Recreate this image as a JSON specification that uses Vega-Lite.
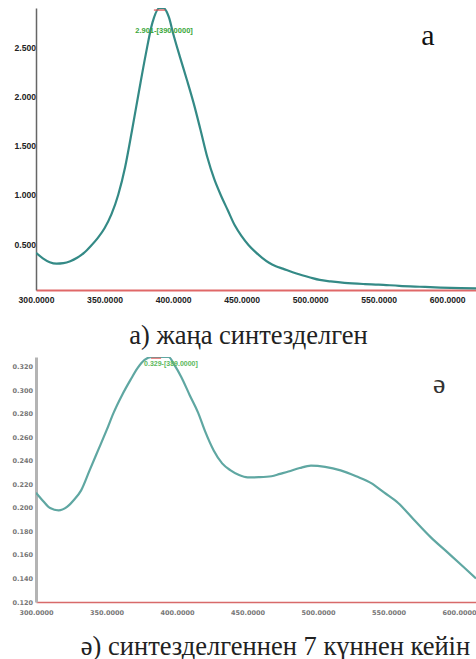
{
  "$schema": "https://vega.github.io/schema/vega-lite/v6.json",
  "padding": {"left": 12, "top": 8, "right": 0, "bottom": 0},
  "background": "white",
  "config": {"view": {"stroke": null}, "axis": {"grid": false, "ticks": false, "labelOverlap": false, "labelSeparation": 0}},
  "datasets": {
    "fresh": [
      {"wavelength": 300, "absorbance": 0.41}, {"wavelength": 305, "absorbance": 0.355}, {"wavelength": 310, "absorbance": 0.315},
      {"wavelength": 315, "absorbance": 0.3}, {"wavelength": 320, "absorbance": 0.305}, {"wavelength": 325, "absorbance": 0.325},
      {"wavelength": 330, "absorbance": 0.36}, {"wavelength": 335, "absorbance": 0.41}, {"wavelength": 340, "absorbance": 0.48},
      {"wavelength": 345, "absorbance": 0.56}, {"wavelength": 350, "absorbance": 0.66}, {"wavelength": 355, "absorbance": 0.8},
      {"wavelength": 360, "absorbance": 1.0}, {"wavelength": 365, "absorbance": 1.28}, {"wavelength": 370, "absorbance": 1.65},
      {"wavelength": 375, "absorbance": 2.04}, {"wavelength": 380, "absorbance": 2.42}, {"wavelength": 385, "absorbance": 2.75},
      {"wavelength": 390, "absorbance": 2.895}, {"wavelength": 393, "absorbance": 2.895}, {"wavelength": 397, "absorbance": 2.8},
      {"wavelength": 400, "absorbance": 2.64}, {"wavelength": 405, "absorbance": 2.4}, {"wavelength": 410, "absorbance": 2.17},
      {"wavelength": 415, "absorbance": 1.93}, {"wavelength": 420, "absorbance": 1.66}, {"wavelength": 425, "absorbance": 1.38},
      {"wavelength": 430, "absorbance": 1.16}, {"wavelength": 435, "absorbance": 0.99}, {"wavelength": 440, "absorbance": 0.84},
      {"wavelength": 445, "absorbance": 0.69}, {"wavelength": 450, "absorbance": 0.58}, {"wavelength": 455, "absorbance": 0.49},
      {"wavelength": 460, "absorbance": 0.42}, {"wavelength": 465, "absorbance": 0.36}, {"wavelength": 470, "absorbance": 0.31},
      {"wavelength": 475, "absorbance": 0.275}, {"wavelength": 480, "absorbance": 0.25}, {"wavelength": 490, "absorbance": 0.2},
      {"wavelength": 500, "absorbance": 0.16}, {"wavelength": 507, "absorbance": 0.135}, {"wavelength": 515, "absorbance": 0.12},
      {"wavelength": 525, "absorbance": 0.105}, {"wavelength": 540, "absorbance": 0.093}, {"wavelength": 550, "absorbance": 0.088},
      {"wavelength": 565, "absorbance": 0.075}, {"wavelength": 580, "absorbance": 0.066}, {"wavelength": 595, "absorbance": 0.058},
      {"wavelength": 610, "absorbance": 0.052}, {"wavelength": 621, "absorbance": 0.05}
    ],
    "week": [
      {"wavelength": 300, "absorbance": 0.213}, {"wavelength": 305, "absorbance": 0.206}, {"wavelength": 310, "absorbance": 0.2},
      {"wavelength": 316, "absorbance": 0.198}, {"wavelength": 322, "absorbance": 0.201}, {"wavelength": 327, "absorbance": 0.207},
      {"wavelength": 332, "absorbance": 0.215}, {"wavelength": 338, "absorbance": 0.232}, {"wavelength": 344, "absorbance": 0.249},
      {"wavelength": 350, "absorbance": 0.266}, {"wavelength": 355, "absorbance": 0.281}, {"wavelength": 361, "absorbance": 0.296},
      {"wavelength": 367, "absorbance": 0.309}, {"wavelength": 372, "absorbance": 0.319}, {"wavelength": 377, "absorbance": 0.326},
      {"wavelength": 382, "absorbance": 0.3285}, {"wavelength": 389, "absorbance": 0.3285}, {"wavelength": 394, "absorbance": 0.3285},
      {"wavelength": 398, "absorbance": 0.322}, {"wavelength": 403, "absorbance": 0.3115}, {"wavelength": 409, "absorbance": 0.296},
      {"wavelength": 415, "absorbance": 0.281}, {"wavelength": 420, "absorbance": 0.265}, {"wavelength": 426, "absorbance": 0.249},
      {"wavelength": 432, "absorbance": 0.238}, {"wavelength": 438, "absorbance": 0.232}, {"wavelength": 444, "absorbance": 0.228},
      {"wavelength": 450, "absorbance": 0.226}, {"wavelength": 458, "absorbance": 0.2262}, {"wavelength": 467, "absorbance": 0.227},
      {"wavelength": 473, "absorbance": 0.229}, {"wavelength": 479, "absorbance": 0.231}, {"wavelength": 487, "absorbance": 0.234},
      {"wavelength": 495, "absorbance": 0.236}, {"wavelength": 505, "absorbance": 0.235}, {"wavelength": 516, "absorbance": 0.232},
      {"wavelength": 527, "absorbance": 0.227}, {"wavelength": 538, "absorbance": 0.221}, {"wavelength": 547, "absorbance": 0.213},
      {"wavelength": 557, "absorbance": 0.204}, {"wavelength": 568, "absorbance": 0.19}, {"wavelength": 580, "absorbance": 0.175},
      {"wavelength": 592, "absorbance": 0.162}, {"wavelength": 603, "absorbance": 0.15}, {"wavelength": 612, "absorbance": 0.14}
    ]
  },
  "bounds": "flush",
  "spacing": 67,
  "vconcat": [
    {
      "width": 440,
      "height": 282,
      "layer": [
        {
          "data": {"name": "fresh"},
          "mark": {"type": "line", "color": "#348a86", "strokeWidth": 2.2, "interpolate": "monotone", "clip": true},
          "encoding": {
            "x": {
              "field": "wavelength", "type": "quantitative",
              "scale": {"domain": [300, 621], "nice": false, "zero": false},
              "axis": {
                "values": [300, 350, 400, 450, 500, 550, 600], "tickCount": 20, "format": ".4f",
                "labelFont": "Liberation Sans", "labelFontWeight": "bold", "labelFontSize": 8.6, "labelColor": "#222",
                "labelPadding": 5, "labelBaseline": "top", "labelFlush": false, "labelOverlap": false,
                "domainColor": "#e06868", "domainWidth": 2,
                "title": "а) жаңа синтезделген", "titleFont": "Liberation Serif, Times New Roman, DejaVu Serif, serif", "titleFontSize": 26.5,
                "titleFontWeight": "normal", "titleColor": "#222", "titleX": 212, "titleY": 53,
                "titleAlign": "center", "titleBaseline": "alphabetic"
              }
            },
            "y": {
              "field": "absorbance", "type": "quantitative",
              "scale": {"domain": [0.033, 2.896], "nice": false, "zero": false},
              "axis": {
                "values": [0.5, 1.0, 1.5, 2.0, 2.5], "tickCount": 20, "format": ".3f",
                "labelFont": "Liberation Sans", "labelFontWeight": "bold", "labelFontSize": 8.6, "labelColor": "#222",
                "labelAlign": "left", "labelPadding": 22, "labelBaseline": "middle", "labelOverlap": false,
                "domainColor": "#666666", "domainWidth": 1.5, "title": null
              }
            }
          }
        },
        {
          "data": {"values": [{}]},
          "mark": {"type": "rule", "color": "#e05050", "strokeWidth": 1.2},
          "encoding": {
            "x": {"datum": 386}, "x2": {"datum": 394.2},
            "y": {"datum": 2.875}
          }
        },
        {
          "data": {"values": [{}]},
          "mark": {"type": "text", "font": "Liberation Sans", "fontWeight": "bold", "fontSize": 7.5, "color": "#3aa63a", "align": "center", "baseline": "middle"},
          "encoding": {
            "x": {"datum": 393.4}, "y": {"datum": 2.66},
            "text": {"value": "2.901-[390.0000]"}
          }
        },
        {
          "data": {"values": [{}]},
          "mark": {"type": "text", "font": "Liberation Serif, Times New Roman, DejaVu Serif, serif", "fontSize": 30, "color": "#111", "align": "center", "baseline": "middle"},
          "encoding": {
            "x": {"datum": 586}, "y": {"datum": 2.61},
            "text": {"value": "a"}
          }
        }
      ]
    },
    {
      "width": 440,
      "height": 245,
      "layer": [
        {
          "data": {"name": "week"},
          "mark": {"type": "line", "color": "#5fa7a2", "strokeWidth": 2.2, "interpolate": "monotone", "clip": true},
          "encoding": {
            "x": {
              "field": "wavelength", "type": "quantitative",
              "scale": {"domain": [300, 612], "nice": false, "zero": false},
              "axis": {
                "values": [300, 350, 400, 450, 500, 550, 600], "tickCount": 20, "format": ".4f",
                "labelFont": "DejaVu Sans", "labelFontWeight": "bold", "labelFontSize": 6.5, "labelColor": "#777",
                "labelPadding": 7, "labelBaseline": "top", "labelFlush": false, "labelOverlap": false,
                "domainColor": "#d86a6a", "domainWidth": 1.5,
                "title": "ә) синтезделгеннен 7 күннен кейін", "titleFont": "Liberation Serif, Times New Roman, DejaVu Serif, serif", "titleFontSize": 26.5,
                "titleFontWeight": "normal", "titleColor": "#222", "titleX": 239, "titleY": 52,
                "titleAlign": "center", "titleBaseline": "alphabetic"
              }
            },
            "y": {
              "field": "absorbance", "type": "quantitative",
              "scale": {"domain": [0.12, 0.3285], "nice": false, "zero": false},
              "axis": {
                "values": [0.12, 0.14, 0.16, 0.18, 0.2, 0.22, 0.24, 0.26, 0.28, 0.3, 0.32], "tickCount": 20, "format": ".3f",
                "labelFont": "DejaVu Sans", "labelFontWeight": "bold", "labelFontSize": 6.5, "labelColor": "#777",
                "labelAlign": "left", "labelPadding": 24, "labelBaseline": "middle", "labelOverlap": false, "labelSeparation": 0,
                "domainColor": "#b4b4b4", "domainWidth": 3, "title": null
              }
            }
          }
        },
        {
          "data": {"values": [{}]},
          "mark": {"type": "rule", "color": "#e05050", "strokeWidth": 1},
          "encoding": {
            "x": {"datum": 381.6}, "x2": {"datum": 388.7},
            "y": {"datum": 0.3275}
          }
        },
        {
          "data": {"values": [{}]},
          "mark": {"type": "text", "font": "Liberation Sans", "fontWeight": "bold", "fontSize": 7, "color": "#5cb85c", "align": "center", "baseline": "middle"},
          "encoding": {
            "x": {"datum": 395.7}, "y": {"datum": 0.3226},
            "text": {"value": "0.329-[389.0000]"}
          }
        },
        {
          "data": {"values": [{}]},
          "mark": {"type": "text", "font": "Liberation Serif, Times New Roman, DejaVu Serif, serif", "fontSize": 28, "color": "#333", "align": "center", "baseline": "middle"},
          "encoding": {
            "x": {"datum": 586}, "y": {"datum": 0.3047},
            "text": {"value": "ә"}
          }
        }
      ]
    }
  ]
}
